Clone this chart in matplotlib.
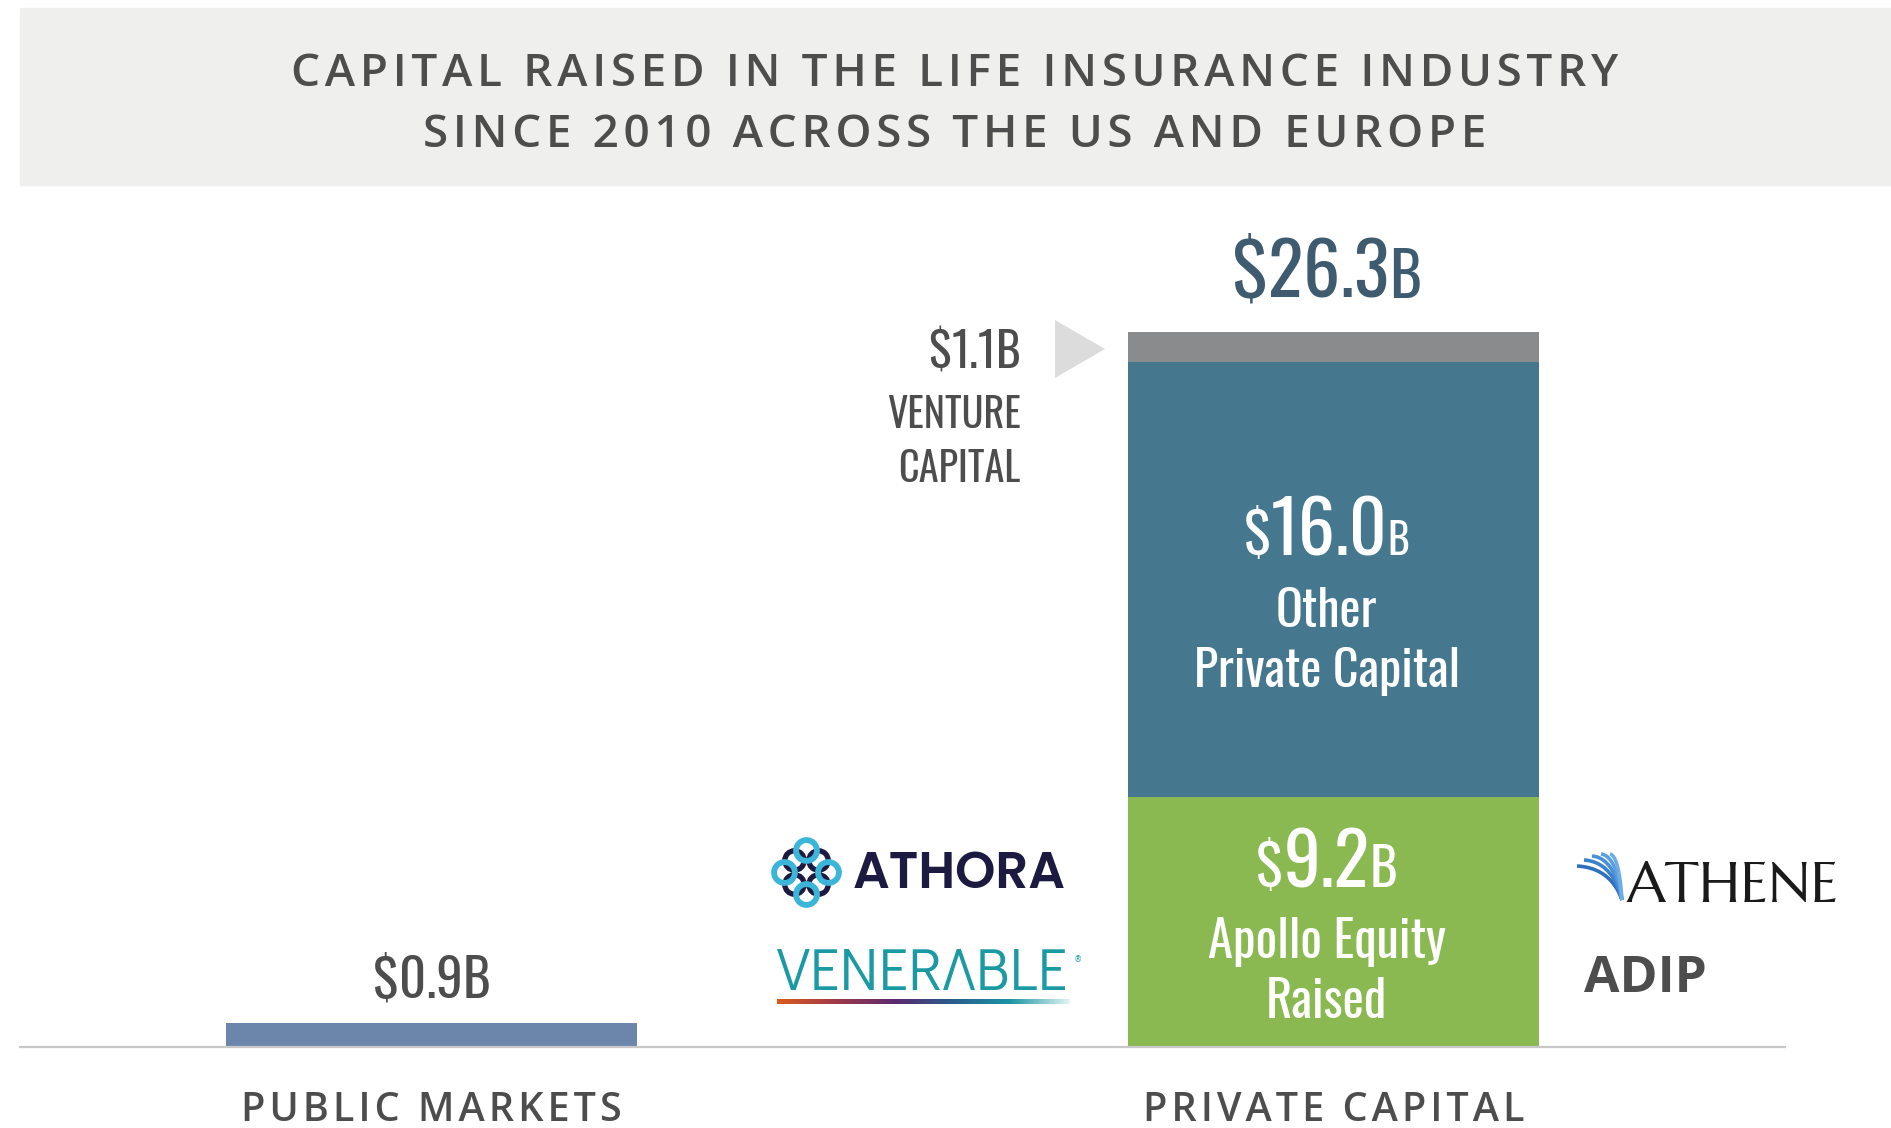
import numpy as np
import matplotlib
matplotlib.use("Agg")
import matplotlib.pyplot as plt
import matplotlib.transforms as mtransforms
from matplotlib import font_manager as fm
from matplotlib.patches import Rectangle, Polygon
from matplotlib.colors import LinearSegmentedColormap

# --- data ---
categories = ["PUBLIC MARKETS", "PRIVATE CAPITAL"]
public_value = [0.9]
private_names = ["Apollo Equity\nRaised", "Other\nPrivate Capital", "VENTURE\nCAPITAL"]
private_values = [9.2, 16.0, 1.1]
private_total = 26.3

title = "CAPITAL RAISED IN THE LIFE INSURANCE INDUSTRY\nSINCE 2010 ACROSS THE US AND EUROPE"


def first_font(names):
    for n in names:
        try:
            fm.findfont(fm.FontProperties(family=n), fallback_to_default=False)
            return n
        except ValueError:
            pass
    return "DejaVu Sans"


# --- styling ---
OSW = ["Oswald", "DejaVu Sans"]
OPEN = ["Open Sans", "DejaVu Sans"]
GEO_BOLD = [first_font(["Poppins", "Montserrat Alternates", "Open Sans"]), "DejaVu Sans"]
GEO_REG = [first_font(["Didact Gothic", "Questrial", "Poppins", "Open Sans"]), "DejaVu Sans"]
c_public = "#6c85ab"
c_green = "#8bb951"
c_blue = "#45788f"
c_gray = "#8a8b8d"
c_text = "#4d4d4d"
c_total = "#3f5b70"

W, H = 1891, 1128
fig = plt.figure(figsize=(W / 100, H / 100), dpi=100)

# title banner
fig.patches.append(Rectangle((20 / W, 1 - 185 / H), 1 - 20 / W, 177 / H,
                             transform=fig.transFigure, color="#efefed", zorder=0))
for i, line in enumerate(title.split("\n")):
    fig.text(955 / W, 1 - (86 + 61 * i) / H, "\u200a".join(line), ha="center", va="baseline",
             fontsize=33, family=OPEN, weight=600, color=c_text)

# bar axes: baseline at y=1047px, 27.19 px per $B, bars 902px apart
px_per_b = 27.19
y_top = 30
ax = fig.add_axes([20 / W, 1 - 1047 / H, 1765 / W, y_top * px_per_b / H])
ax.patch.set_alpha(0)
x0 = (20 - 431.5) / 902
x1 = (1785 - 431.5) / 902
bw = 411 / 902


def px(xp, yp):
    # pixel position (from top-left) -> data coordinates, for logo decorations
    return (xp - 431.5) / 902, (1047 - yp) / px_per_b


ax.bar(0, public_value[0], width=bw, color=c_public)
bottoms = np.concatenate([[0], np.cumsum(private_values)[:-1]])
for v, b, c in zip(private_values, bottoms, [c_green, c_blue, c_gray]):
    ax.bar(1, v, bottom=b, width=bw, color=c)

for s in ["top", "left", "right"]:
    ax.spines[s].set_visible(False)
ax.spines["bottom"].set_color("#c8c8c8")
ax.spines["bottom"].set_linewidth(1.6)
ax.set_yticks([])
ax.set_xticks([0, 1])
ax.set_xticklabels(["\u200a".join(c) for c in categories], family=OPEN, weight=600,
                   fontsize=28.5, color=c_text)
ax.tick_params(axis="x", length=0, pad=32)

renderer = fig.canvas.get_renderer()


def pieces(x, y, parts, color, ha="center"):
    texts = [ax.text(x, y, s, fontsize=sz, family=OSW, color=color, ha="left", va="baseline")
             for s, sz in parts]
    widths = [t.get_window_extent(renderer).width for t in texts]
    off = -sum(widths) / 2 if ha == "center" else -sum(widths)
    for t, w in zip(texts, widths):
        t.set_transform(mtransforms.offset_copy(ax.transData, fig=fig, x=off, y=0, units="dots"))
        off += w


def money(v):
    return "%.1f" % v


xc = 1 - 7 / 902  # labels on the private bar sit slightly left of centre

# value labels
pieces(0, 1.80, [("$", 38), (money(public_value[0]), 38), ("B", 38)], c_text)
pieces(xc, 27.55, [("$", 53), (money(private_total), 53), ("B", 44)], c_total)
pieces(xc, 18.09, [("$", 40), (money(private_values[1]), 53), ("B", 30)], "white")
pieces(xc, 5.88, [("$", 40), (money(private_values[0]), 53), ("B", 38)], "white")
pieces(0.6535, 24.97, [("$", 34), (money(private_values[2]), 34), ("B", 34)], c_text, ha="right")

# segment names
vc1, vc2 = private_names[2].split("\n")
ax.text(0.6535, 22.77, vc1, fontsize=29, family=OSW, color=c_text, ha="right", va="baseline")
ax.text(0.6535, 20.78, vc2, fontsize=29, family=OSW, color=c_text, ha="right", va="baseline")
o1, o2 = private_names[1].split("\n")
ax.text(xc, 15.45, o1, fontsize=36, family=OSW, color="white", ha="center", va="baseline")
ax.text(xc, 13.24, o2, fontsize=36, family=OSW, color="white", ha="center", va="baseline")
a1, a2 = private_names[0].split("\n")
ax.text(xc, 3.27, a1, fontsize=36.5, family=OSW, color="white", ha="center", va="baseline")
ax.text(xc, 1.07, a2, fontsize=36.5, family=OSW, color="white", ha="center", va="baseline")

# arrow pointing at the venture capital slice
ax.add_patch(Polygon([px(1055, 320), px(1055, 378), px(1105, 349)], closed=True,
                     color="#dcdcdc", lw=0))

# --- logos, drawn as text + simple shapes ---
# ATHORA
xa, ya = px(853, 888)
ax.text(xa, ya, "ATHORA", fontsize=37, family=GEO_BOLD, weight=600,
        color="#1c1a40", ha="left", va="baseline")
teal = "#3bb5d8"
navy = "#1c1a40"
for dx, dy in [(-12, -12), (12, -12), (-12, 12), (12, 12)]:
    xx, yy = px(806 + dx, 872 + dy)
    ax.plot(xx, yy, "o", mfc="none", mec=navy, ms=14, mew=3.8)
for dx, dy in [(0, -22), (-22, 0), (22, 0), (0, 22)]:
    xx, yy = px(806 + dx, 872 + dy)
    ax.plot(xx, yy, "o", mfc="none", mec=teal, ms=15, mew=4.2)

# VENERABLE
xv, yv = px(777, 990)
ax.text(xv, yv, "VENER\u039bBLE", fontsize=42.5, family=GEO_REG,
        color="#1b9aa4", ha="left", va="baseline")
xr, yr = px(1074, 962)
ax.text(xr, yr, "\u00ae", fontsize=6, family="DejaVu Sans", color="#1b9aa4", ha="left", va="baseline")
grad = LinearSegmentedColormap.from_list(
    "ven", ["#dc5a1e", "#a03a4a", "#5b2a6e", "#2a5c8c", "#1b96a4", "#dff3f5"])
gx0, gy0 = px(777, 1003.5)
gx1, gy1 = px(1070, 998.5)
ax.imshow(np.linspace(0, 1, 200)[None, :], cmap=grad, extent=[gx0, gx1, gy0, gy1],
          aspect="auto", zorder=3)

# ATHENE
xe, ye = px(1627, 902)
ax.text(xe, ye, "ATHENE", fontsize=41, family=["Marcellus", "Tenor Sans", "DejaVu Sans"],
        color="#1a1a1a", ha="left", va="baseline")
blues = ["#2f6fc0", "#3a80cc", "#4a90d6", "#5aa0de", "#6eaee4"]
end = np.array([1622.0, 900.0])
starts = [(1577, 866), (1584, 860), (1592, 856), (1601, 854), (1610, 854)]
t = np.linspace(0, 1, 30)
for (sx, sy), c in zip(starts, blues):
    p0 = np.array([sx, sy], float)
    ctrl = np.array([sx + (end[0] - sx) * 0.75, sy + 2.0])
    pts = ((1 - t) ** 2)[:, None] * p0 + (2 * (1 - t) * t)[:, None] * ctrl + (t ** 2)[:, None] * end
    xs, ys = px(pts[:, 0], pts[:, 1])
    ax.plot(xs, ys, color=c, lw=2.6, solid_capstyle="butt")

# ADIP
xd, yd = px(1584, 992)
ax.text(xd, yd, "ADIP", fontsize=37, family=OPEN, weight="bold", color=c_text,
        ha="left", va="baseline")

ax.set_xlim(x0, x1)
ax.set_ylim(0, y_top)

fig.savefig("out.png", dpi=100)
